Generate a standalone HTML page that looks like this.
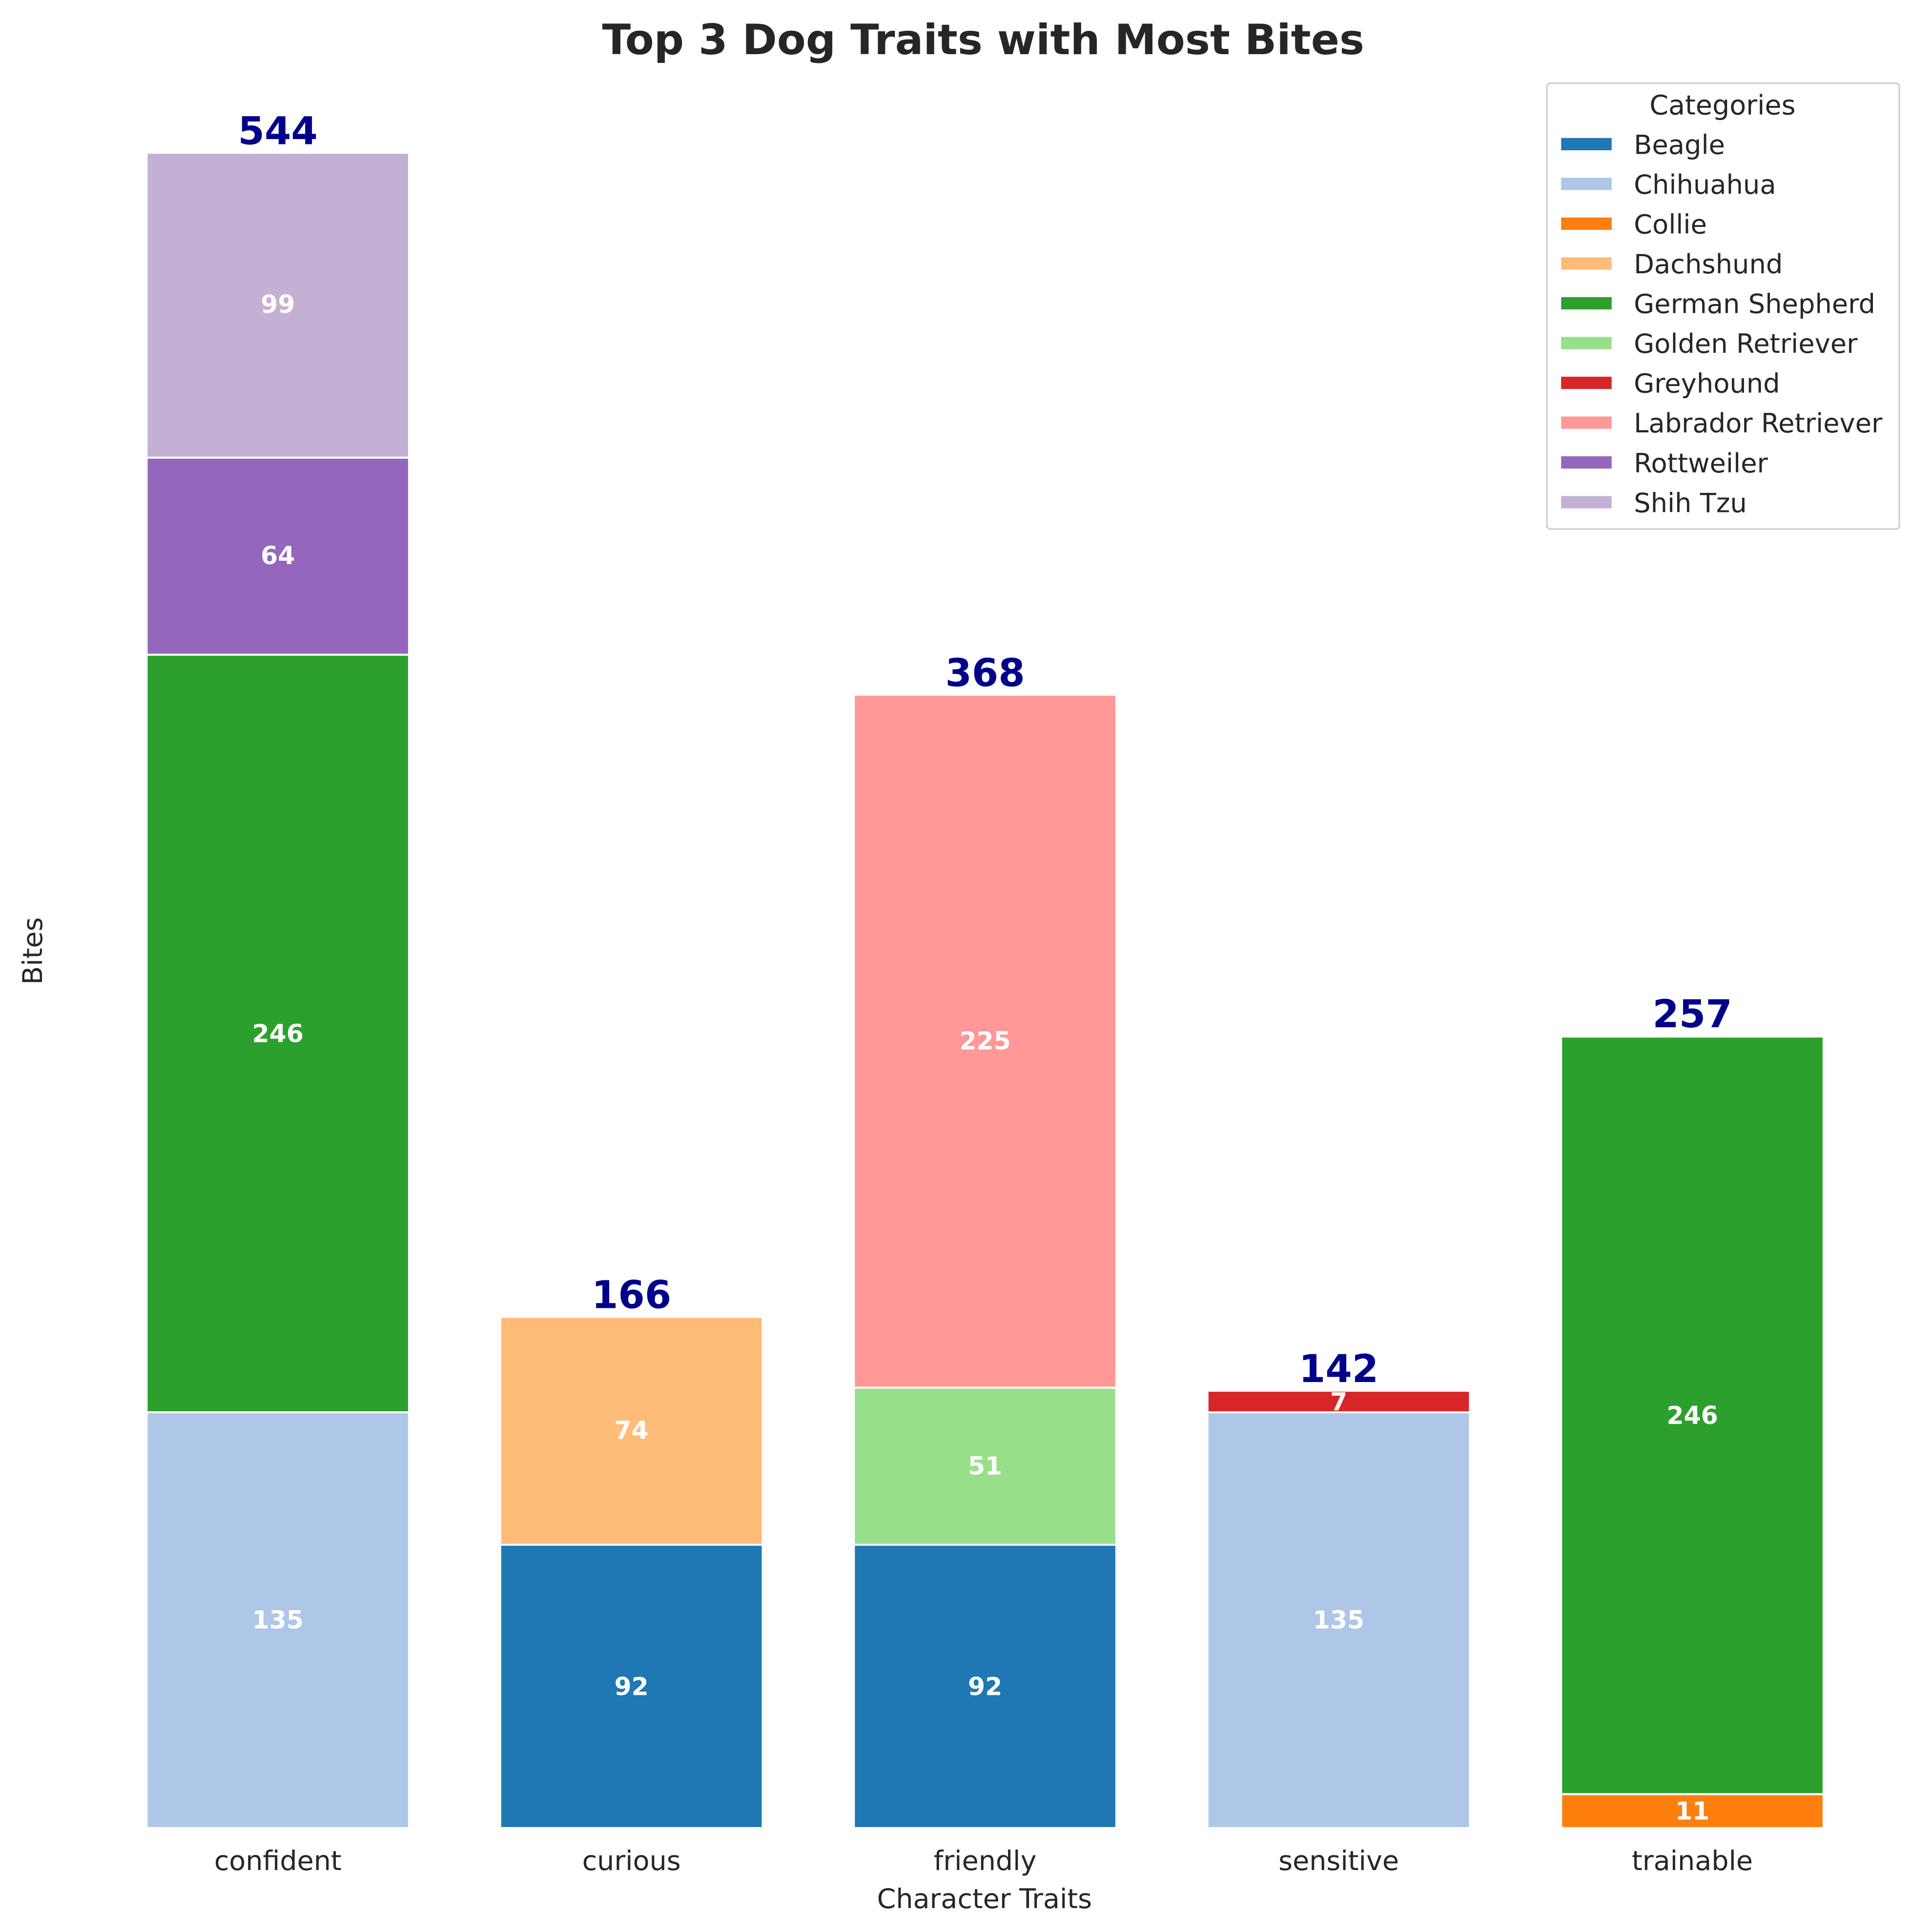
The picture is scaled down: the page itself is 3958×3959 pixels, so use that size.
<!DOCTYPE html>
<html><head><meta charset="utf-8"><style>
html,body{margin:0;padding:0;background:#fff;}
svg{display:block;}
text{font-family:"DejaVu Sans","Liberation Sans",sans-serif;}
</style></head><body>
<svg width="3958" height="3959" viewBox="0 0 1568 1568.4" preserveAspectRatio="none" xmlns="http://www.w3.org/2000/svg">
<rect width="1568" height="1569" fill="#fff"/>
<text x="798" y="44" text-anchor="middle" font-size="34" font-weight="bold" fill="#262626">Top 3 Dog Traits with Most Bites</text>
<g stroke="#fff" stroke-width="1.6">
<rect x="119" y="1146.5" width="213" height="337.5" fill="#aec7e8"/>
<rect x="119" y="531.5" width="213" height="615" fill="#2ca02c"/>
<rect x="119" y="371.5" width="213" height="160" fill="#9467bd"/>
<rect x="119" y="124" width="213" height="247.5" fill="#c5b0d5"/>
<rect x="406" y="1254" width="213" height="230" fill="#1f77b4"/>
<rect x="406" y="1069" width="213" height="185" fill="#ffbb78"/>
<rect x="693" y="1254" width="213" height="230" fill="#1f77b4"/>
<rect x="693" y="1126.5" width="213" height="127.5" fill="#98df8a"/>
<rect x="693" y="564" width="213" height="562.5" fill="#ff9896"/>
<rect x="980" y="1146.5" width="213" height="337.5" fill="#aec7e8"/>
<rect x="980" y="1129" width="213" height="17.5" fill="#d62728"/>
<rect x="1267" y="1456.5" width="213" height="27.5" fill="#ff7f0e"/>
<rect x="1267" y="841.5" width="213" height="615" fill="#2ca02c"/>
</g>
<g font-size="20" font-weight="bold" fill="#fff" text-anchor="middle">
<text x="225.5" y="1322">135</text>
<text x="225.5" y="846">246</text>
<text x="225.5" y="458">64</text>
<text x="225.5" y="254">99</text>
<text x="512.5" y="1376">92</text>
<text x="512.5" y="1168">74</text>
<text x="799.5" y="1197">51</text>
<text x="799.5" y="1376">92</text>
<text x="799.5" y="852">225</text>
<text x="1086.5" y="1322">135</text>
<text x="1086.5" y="1145">7</text>
<text x="1373.5" y="1477">11</text>
<text x="1373.5" y="1156">246</text>
</g>
<g font-size="31" font-weight="bold" fill="#00008b" text-anchor="middle">
<text x="225.5" y="117">544</text>
<text x="512.5" y="1062">166</text>
<text x="799.5" y="557">368</text>
<text x="1086.5" y="1122">142</text>
<text x="1373.5" y="834">257</text>
</g>
<g font-size="22" fill="#262626" text-anchor="middle">
<text x="225.5" y="1518">confident</text>
<text x="512.5" y="1518">curious</text>
<text x="799.5" y="1518">friendly</text>
<text x="1086.5" y="1518">sensitive</text>
<text x="1373.5" y="1518">trainable</text>
<text x="799" y="1549">Character Traits</text>
<text transform="translate(34,772) rotate(-90)">Bites</text>
</g>
<rect x="1255.5" y="67.5" width="286" height="362" rx="3" fill="#fff" stroke="#ccc" stroke-width="1.2"/>
<text x="1398" y="93" text-anchor="middle" font-size="22" fill="#262626">Categories</text>
<g font-size="21.5" fill="#262626">
<rect x="1267" y="112" width="41" height="10" fill="#1f77b4"/><text x="1326" y="125">Beagle</text>
<rect x="1267" y="144.3" width="41" height="10" fill="#aec7e8"/><text x="1326" y="157.3">Chihuahua</text>
<rect x="1267" y="176.6" width="41" height="10" fill="#ff7f0e"/><text x="1326" y="189.6">Collie</text>
<rect x="1267" y="208.9" width="41" height="10" fill="#ffbb78"/><text x="1326" y="221.9">Dachshund</text>
<rect x="1267" y="241.2" width="41" height="10" fill="#2ca02c"/><text x="1326" y="254.2">German Shepherd</text>
<rect x="1267" y="273.5" width="41" height="10" fill="#98df8a"/><text x="1326" y="286.5">Golden Retriever</text>
<rect x="1267" y="305.8" width="41" height="10" fill="#d62728"/><text x="1326" y="318.8">Greyhound</text>
<rect x="1267" y="338.1" width="41" height="10" fill="#ff9896"/><text x="1326" y="351.1">Labrador Retriever</text>
<rect x="1267" y="370.4" width="41" height="10" fill="#9467bd"/><text x="1326" y="383.4">Rottweiler</text>
<rect x="1267" y="402.7" width="41" height="10" fill="#c5b0d5"/><text x="1326" y="415.7">Shih Tzu</text>
</g>
</svg>
</body></html>
